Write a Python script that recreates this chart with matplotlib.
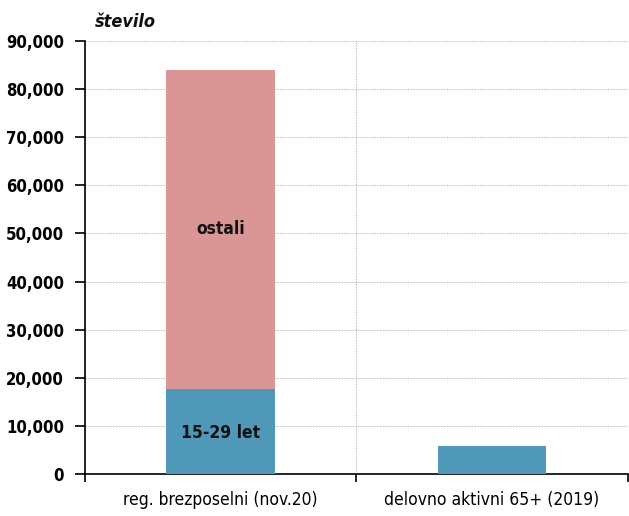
import numpy as np
import matplotlib.pyplot as plt
from matplotlib.ticker import FuncFormatter

plt.rcParams['font.family'] = ['DejaVu Sans']
plt.rcParams['font.stretch'] = 'condensed'

# data
categories = ['reg. brezposelni (nov.20)', 'delovno aktivni 65+ (2019)']
mladi = [17700, 5800]
ostali = [66300, 0]
seg_labels = ['15-29 let', 'ostali']

blue = '#4F98B8'
pink = '#D99694'

fig = plt.figure(figsize=(6.29, 5.16), dpi=100)
ax = fig.add_axes([0.135, 0.0814, 0.863, 0.8391])

x = np.arange(len(categories))
ax.bar(x, mladi, width=0.4, color=blue, zorder=3)
ax.bar(x[:1], ostali[:1], width=0.4, bottom=mladi[:1], color=pink, zorder=3)

# segment labels in the first bar
ax.text(x[0], mladi[0] / 2 - 400, seg_labels[0], ha='center', va='center',
        fontsize=12.5, fontweight='bold', color='#111111', zorder=4)
ax.text(x[0], mladi[0] + ostali[0] / 2, seg_labels[1], ha='center', va='center',
        fontsize=12.5, fontweight='bold', color='#111111', zorder=4)

ax.set_xlim(-0.5, 1.5)
ax.set_ylim(0, 90000)
ax.set_yticks(np.arange(0, 90001, 10000))
ax.yaxis.set_major_formatter(FuncFormatter(lambda v, p: f'{int(v):,}'))

ax.set_xticks(x)
ax.set_xticklabels(categories, fontsize=12.5)
ax.set_xticks([-0.5, 0.5, 1.5], minor=True)
ax.tick_params(axis='x', which='major', length=0, pad=12)
ax.tick_params(axis='x', which='minor', length=6, width=1.2, direction='out')
ax.tick_params(axis='y', length=7, width=1.2, labelsize=12, pad=8)
for lab in ax.get_yticklabels():
    lab.set_fontweight('bold')

ax.grid(axis='y', which='major', color='#c8c8c8', linestyle=(0, (1.5, 1)), linewidth=0.8, zorder=0)
ax.grid(axis='x', which='minor', color='#c8c8c8', linestyle=(0, (1.5, 1)), linewidth=0.8, zorder=0)
ax.grid(axis='x', which='major', visible=False)

for s in ['top', 'right']:
    ax.spines[s].set_visible(False)
ax.spines['left'].set_linewidth(1.2)
ax.spines['bottom'].set_linewidth(1.2)

fig.text(0.151, 0.957, 'število', fontsize=13, fontstyle='italic', fontweight='bold',
         ha='left', va='center', color='#111111')

fig.savefig('out.png', dpi=100)
